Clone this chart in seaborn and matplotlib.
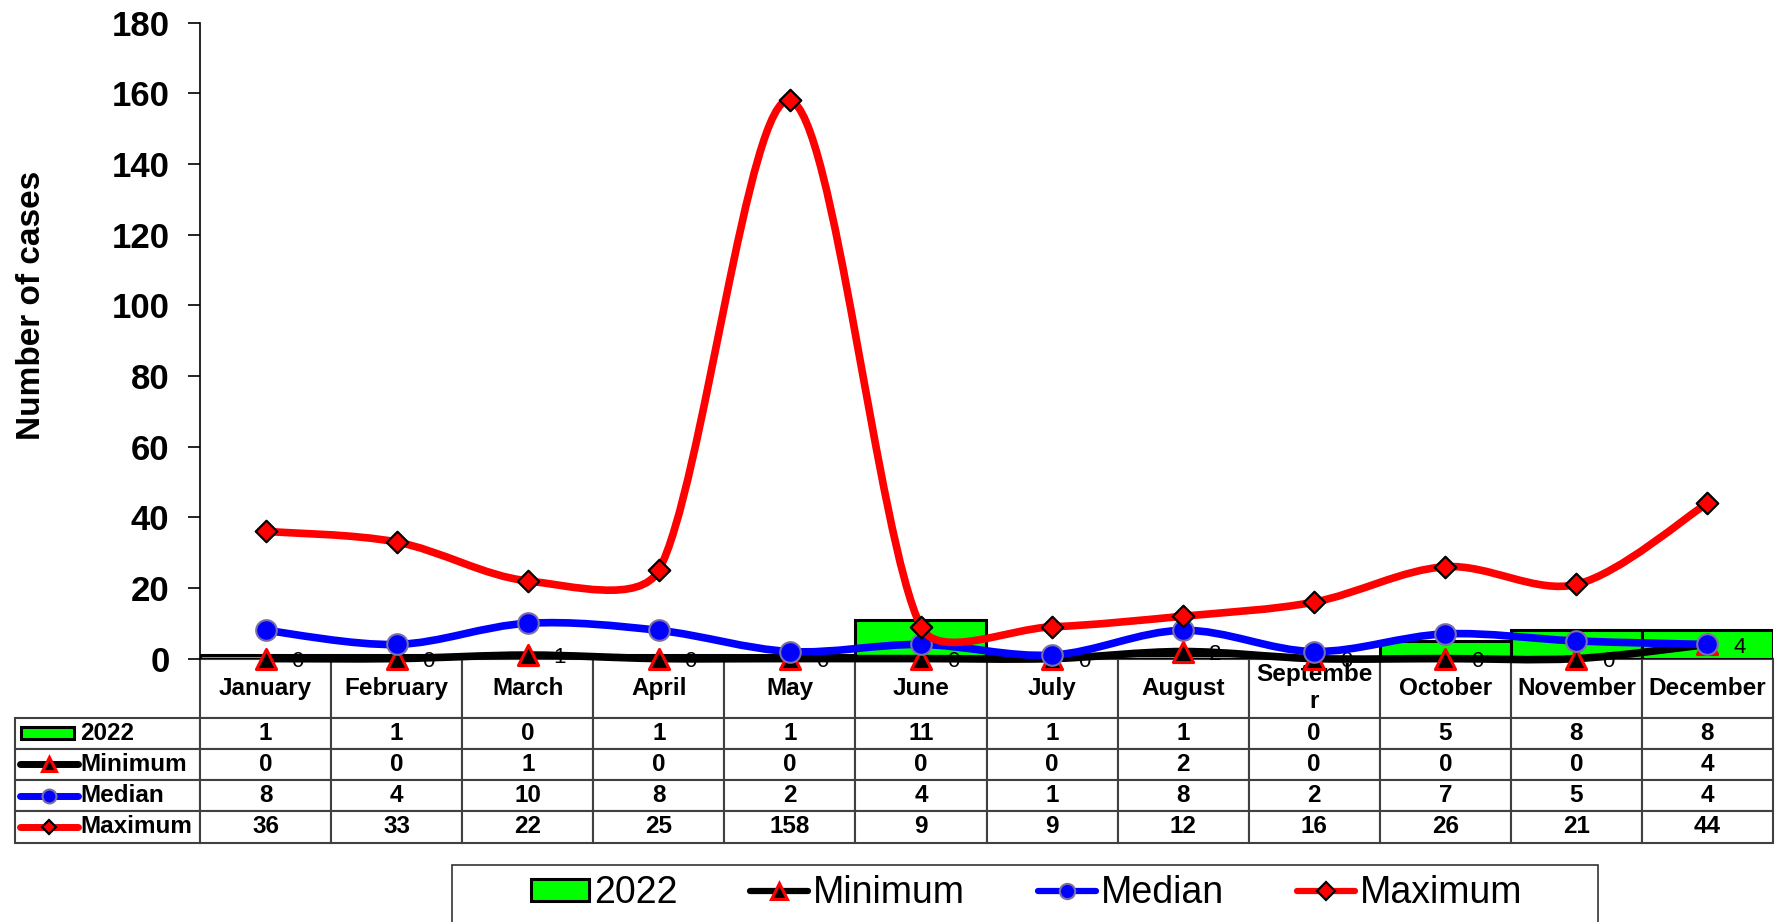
import numpy as np
import matplotlib
matplotlib.use("Agg")
import matplotlib.pyplot as plt
import seaborn as sns
from matplotlib.path import Path
from matplotlib.patches import PathPatch, Rectangle, Patch
from matplotlib.lines import Line2D
from matplotlib.table import Table

# data
months = ["January", "February", "March", "April", "May", "June", "July",
          "August", "September", "October", "November", "December"]
cases_2022 = [1, 1, 0, 1, 1, 11, 1, 1, 0, 5, 8, 8]
minimum = [0, 0, 1, 0, 0, 0, 0, 2, 0, 0, 0, 4]
median = [8, 4, 10, 8, 2, 4, 1, 8, 2, 7, 5, 4]
maximum = [36, 33, 22, 25, 158, 9, 9, 12, 16, 26, 21, 44]
row_names = ["2022", "Minimum", "Median", "Maximum"]
y_ticks = list(range(0, 181, 20))

GREEN = "#00FF00"
EDGE = "#404040"

# layout in pixels (figure 1780 x 922)
FIG_W, FIG_H = 1780, 922
AX_L, AX_R, AX_T, AX_B = 200, 1773, 22.7, 658.6
AX_W, AX_H = AX_R - AX_L, AX_B - AX_T


def smooth_path(xs, ys, sx, sy):
    # Excel-like smoothed line: one cubic Bezier piece between each pair of points
    xs = np.asarray(xs, float)
    ys = np.asarray(ys, float)
    n = len(xs)

    def dist(a, b):
        return np.hypot((xs[a] - xs[b]) * sx, (ys[a] - ys[b]) * sy)

    verts = [(xs[0], ys[0])]
    codes = [Path.MOVETO]
    for i in range(n - 1):
        p0 = max(i - 1, 0)
        p3 = min(i + 2, n - 1)
        d01, d12, d23 = dist(p0, i), dist(i, i + 1), dist(i + 1, p3)
        f1 = min(1.0, 2 * d12 / (d01 + d12)) if d01 > 0 else 1.0
        f2 = min(1.0, 2 * d12 / (d12 + d23)) if d23 > 0 else 1.0
        c1 = (xs[i] + (xs[i + 1] - xs[p0]) / 6 * f1, ys[i] + (ys[i + 1] - ys[p0]) / 6 * f1)
        c2 = (xs[i + 1] - (xs[p3] - xs[i]) / 6 * f2, ys[i + 1] - (ys[p3] - ys[i]) / 6 * f2)
        verts += [c1, c2, (xs[i + 1], ys[i + 1])]
        codes += [Path.CURVE4] * 3
    return Path(verts, codes)


sns.set_theme(style="white")
plt.rcParams["font.family"] = ["Liberation Sans", "DejaVu Sans"]
plt.rcParams["text.color"] = "black"
plt.rcParams["axes.labelcolor"] = "black"
plt.rcParams["ytick.color"] = "black"
plt.rcParams["xtick.color"] = "black"

fig = plt.figure(figsize=(FIG_W / 100, FIG_H / 100), dpi=100)
ax = fig.add_axes([AX_L / FIG_W, 1 - AX_B / FIG_H, AX_W / FIG_W, AX_H / FIG_H])

xpos = np.arange(len(months))

sns.barplot(x=months, y=cases_2022, color=GREEN, saturation=1, edgecolor="black",
            linewidth=2.2, width=1.0, errorbar=None, ax=ax, zorder=2)

sx = AX_W / len(months)
sy = AX_H / 180

series = [
    (minimum, "black", "^", "black", "red", 210, 2.2, 3),
    (median, "#0000FF", "o", "#0000FF", "#7a6fa8", 220, 1.5, 4),
    (maximum, "#FF0000", "D", "#FF0000", "black", 120, 1.6, 5),
]
for vals, lc, mk, fc, ec, size, mew, z in series:
    ax.add_patch(PathPatch(smooth_path(xpos, vals, sx, sy), fill=False, edgecolor=lc,
                           lw=5.5, capstyle="round", joinstyle="round", zorder=z, clip_on=False))
    sns.scatterplot(x=xpos, y=vals, marker=mk, s=size, color=fc, edgecolor=ec,
                    linewidth=mew, zorder=z + 0.1, clip_on=False, ax=ax, legend=False)

# data labels of the minimum series
for x, v in zip(xpos, minimum):
    ax.annotate(str(v), (x, v), xytext=(23, -2), textcoords="offset points",
                ha="center", va="center", fontsize=16, zorder=3.05, annotation_clip=False)

ax.set_xlim(-0.5, len(months) - 0.5)
ax.set_ylim(0, 180)
ax.set_yticks(y_ticks)
ax.set_xticks([])
ax.set_xlabel("")
ax.set_ylabel("Number of cases", fontsize=24, fontweight="bold")
ax.yaxis.set_label_coords(-0.097, 0.556)
ax.tick_params(axis="y", left=True, length=9, width=1.2, pad=13, labelsize=25,
               color="black", labelcolor="black")
for lab in ax.get_yticklabels():
    lab.set_fontweight("bold")
for s in ["top", "right", "bottom"]:
    ax.spines[s].set_visible(False)
ax.spines["left"].set_color("black")
ax.spines["left"].set_linewidth(1.2)

# data table under the plot
head_h = 59 / AX_H
row_h = 31.25 / AX_H
col_w = 1 / len(months)
lab_w = (AX_L - 15) / AX_W
tbl = Table(ax, loc="bottom")
for j, m in enumerate(months):
    txt = m if len(m) <= 8 else m[:8] + "\n" + m[8:]
    tbl.add_cell(0, j, col_w, head_h, text=txt, loc="center", edgecolor=EDGE)
for i, vals in enumerate([cases_2022, minimum, median, maximum], start=1):
    tbl.add_cell(i, -1, lab_w, row_h, text="", edgecolor=EDGE)
    for j, v in enumerate(vals):
        tbl.add_cell(i, j, col_w, row_h, text=str(v), loc="center", edgecolor=EDGE)
tbl.auto_set_font_size(False)
for cell in tbl.get_celld().values():
    cell.set_linewidth(1.5)
    cell.get_text().set_fontsize(17.5)
    cell.get_text().set_fontweight("bold")
    cell.get_text().set_color("black")
ax.add_table(tbl)


def ax_x(px):
    return (px - AX_L) / AX_W


# row labels with their key symbols
for i, name in enumerate(row_names):
    yc = -(59 + (i + 0.5) * 31.25) / AX_H
    ax.text(ax_x(80), yc, name, transform=ax.transAxes, ha="left", va="center",
            fontsize=17.5, fontweight="bold", clip_on=False)
    if i == 0:
        h = 12 / AX_H
        ax.add_artist(Rectangle((ax_x(21), yc - h / 2), ax_x(74) - ax_x(21), h,
                                transform=ax.transAxes, facecolor=GREEN, edgecolor="black",
                                lw=2.2, clip_on=False))
        continue
    vals, lc, mk, fc, ec, size, mew, z = series[i - 1]
    ax.add_artist(Line2D([ax_x(20), ax_x(78)], [yc, yc], transform=ax.transAxes,
                         color=lc, lw=5, solid_capstyle="round", clip_on=False))
    ax.add_artist(Line2D([ax_x(49)], [yc], transform=ax.transAxes, marker=mk,
                         markersize=10 if mk != "D" else 7, markerfacecolor=fc,
                         markeredgecolor=ec, markeredgewidth=mew, linestyle="",
                         clip_on=False))

# legend at the bottom, in its own box
handles = [Patch(facecolor=GREEN, edgecolor="black", lw=2.2)]
for vals, lc, mk, fc, ec, size, mew, z in series:
    handles.append(Line2D([], [], color=lc, lw=4.5, marker=mk,
                          markersize=11 if mk != "D" else 9, markerfacecolor=fc,
                          markeredgecolor=ec, markeredgewidth=mew))
fig.legend(handles, row_names, loc="center", bbox_to_anchor=(0.5767, 0.031), ncol=4,
           frameon=False, fontsize=27, handlelength=1.55, handleheight=0.5,
           handletextpad=0.12, columnspacing=1.95)
fig.patches.append(Rectangle((452 / FIG_W, -0.01), 1146 / FIG_W, 1 - 865 / FIG_H + 0.01,
                             transform=fig.transFigure, fill=False, edgecolor="#333333",
                             lw=1.2))

fig.savefig("out.png", dpi=100)
